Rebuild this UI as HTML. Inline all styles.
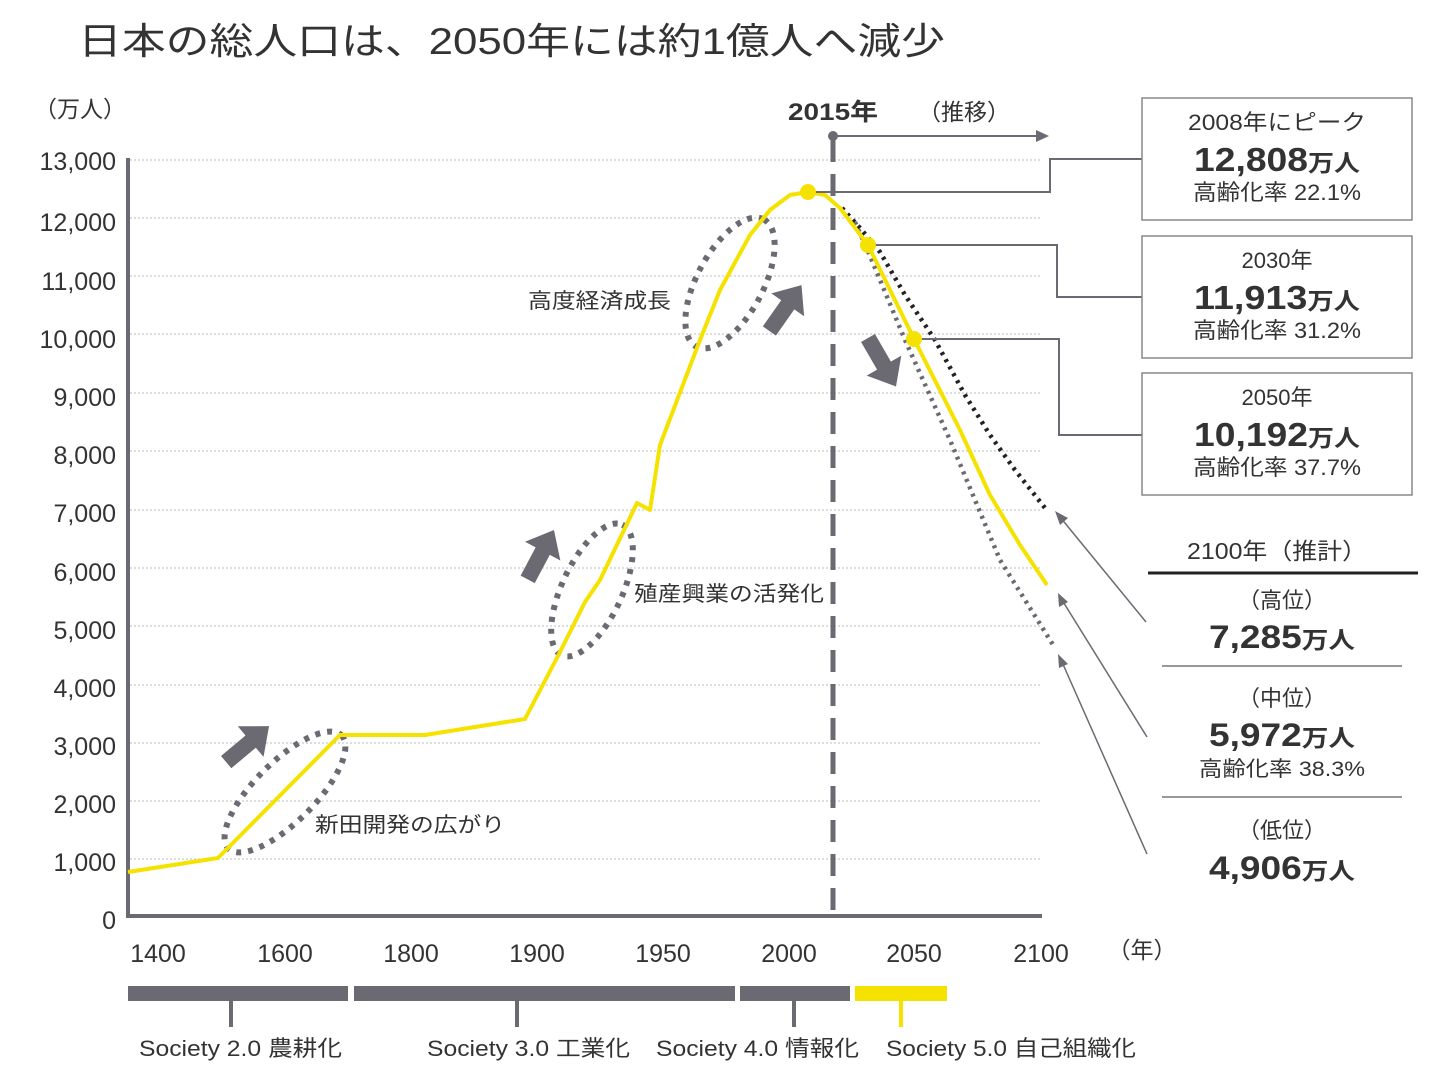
<!DOCTYPE html>
<html><head><meta charset="utf-8"><style>
html,body{margin:0;padding:0;background:#fff}
svg{display:block}
text{font-family:"Liberation Sans","Noto Sans CJK JP",sans-serif;fill:#333}
</style></head><body>
<svg width="1441" height="1080" viewBox="0 0 1441 1080" xmlns="http://www.w3.org/2000/svg">
<text x="78" y="54" font-size="37" fill="#333" textLength="867" lengthAdjust="spacingAndGlyphs">日本の総人口は、2050年には約1億人へ減少</text>
<text x="34" y="117" font-size="23" fill="#444">（万人）</text>
<g stroke="#bbb" stroke-width="1" stroke-dasharray="2,2">
<line x1="130" y1="160" x2="1040" y2="160"/><line x1="130" y1="218" x2="1040" y2="218"/>
<line x1="130" y1="276" x2="1040" y2="276"/><line x1="130" y1="334" x2="1040" y2="334"/>
<line x1="130" y1="393" x2="1040" y2="393"/><line x1="130" y1="451" x2="1040" y2="451"/>
<line x1="130" y1="510" x2="1040" y2="510"/><line x1="130" y1="568" x2="1040" y2="568"/>
<line x1="130" y1="626" x2="1040" y2="626"/><line x1="130" y1="685" x2="1040" y2="685"/>
<line x1="130" y1="743" x2="1040" y2="743"/><line x1="130" y1="801" x2="1040" y2="801"/>
<line x1="130" y1="859" x2="1040" y2="859"/>
</g>
<g font-size="25" text-anchor="end" fill="#333">
<text x="116" y="170">13,000</text><text x="116" y="231">12,000</text><text x="116" y="290">11,000</text>
<text x="116" y="348">10,000</text><text x="116" y="406">9,000</text><text x="116" y="464">8,000</text>
<text x="116" y="522">7,000</text><text x="116" y="581">6,000</text><text x="116" y="639">5,000</text>
<text x="116" y="697">4,000</text><text x="116" y="755">3,000</text><text x="116" y="813">2,000</text>
<text x="116" y="871">1,000</text><text x="116" y="929">0</text>
</g>
<line x1="128" y1="158" x2="128" y2="918" stroke="#6b6a73" stroke-width="4"/>
<line x1="126" y1="916" x2="1042" y2="916" stroke="#6b6a73" stroke-width="4"/>
<g font-size="25" text-anchor="middle">
<text x="158" y="962">1400</text><text x="285" y="962">1600</text><text x="411" y="962">1800</text>
<text x="537" y="962">1900</text><text x="663" y="962">1950</text><text x="789" y="962">2000</text>
<text x="914" y="962">2050</text><text x="1041" y="962">2100</text>
<text x="1142" y="958" font-size="23">（年）</text>
</g>
<line x1="833" y1="140" x2="833" y2="918" stroke="#6b6a73" stroke-width="5" stroke-dasharray="22,12"/>
<circle cx="833" cy="136" r="5" fill="#6b6a73"/>
<line x1="833" y1="136" x2="1040" y2="136" stroke="#6b6a73" stroke-width="2"/>
<polygon points="1049,136 1036,130 1036,142" fill="#6b6a73"/>
<text x="788" y="120" font-size="24" font-weight="bold" textLength="90" lengthAdjust="spacingAndGlyphs">2015年</text>
<text x="918" y="120" font-size="23">（推移）</text>
<g fill="none" stroke="#6b6a73" stroke-width="6" stroke-dasharray="5,7">
<ellipse cx="285" cy="792" rx="80" ry="30" transform="rotate(-45 285 792)"/>
<ellipse cx="592" cy="590" rx="72" ry="30" transform="rotate(-65 592 590)"/>
<ellipse cx="730" cy="283" rx="72" ry="33" transform="rotate(-62 730 283)"/>
</g>
<g fill="#6b6a73">
<polygon points="0,-34 20,-10 8,-10 8,22 -8,22 -8,-10 -20,-10" transform="translate(243,748) rotate(50)"/>
<polygon points="0,-34 20,-10 8,-10 8,22 -8,22 -8,-10 -20,-10" transform="translate(538,560) rotate(28)"/>
<polygon points="0,-34 20,-10 8,-10 8,22 -8,22 -8,-10 -20,-10" transform="translate(782,313) rotate(35)"/>
<polygon points="0,-34 20,-10 8,-10 8,22 -8,22 -8,-10 -20,-10" transform="translate(879,357) rotate(150)"/>
</g>
<g font-size="21" fill="#333">
<text x="315" y="832" textLength="190" lengthAdjust="spacingAndGlyphs">新田開発の広がり</text>
<text x="634" y="601" textLength="190" lengthAdjust="spacingAndGlyphs">殖産興業の活発化</text>
<text x="528" y="308" textLength="143" lengthAdjust="spacingAndGlyphs">高度経済成長</text>
</g>
<polyline points="842,208 860,228 880,252 905,295 935,340 965,395 990,435 1015,470 1045,508" fill="none" stroke="#222" stroke-width="4.5" stroke-dasharray="3,5"/>
<polyline points="855,222 870,256 905,340 950,440 975,500 1000,560 1025,600 1055,648" fill="none" stroke="#6b6a73" stroke-width="4.5" stroke-dasharray="3,5"/>
<polyline points="128,872 218,858 340,735 425,735 525,719 560,652 585,602 600,580 637,503 650,510 660,445 700,340 720,290 750,235 770,210 790,195 808,192 825,195 840,208 868,245 914,339 960,430 990,495 1020,545 1047,585" fill="none" stroke="#f5e200" stroke-width="4" stroke-linejoin="round"/>
<g fill="#f5e200"><circle cx="808" cy="192" r="8"/><circle cx="868" cy="245" r="8"/><circle cx="914" cy="339" r="8"/></g>
<g fill="none" stroke="#6b6a73" stroke-width="2">
<polyline points="816,192 1050,192 1050,159 1142,159"/>
<polyline points="876,245 1057,245 1057,297 1142,297"/>
<polyline points="922,339 1059,339 1059,435 1142,435"/>
</g>
<g fill="#fff" stroke="#888" stroke-width="1.5">
<rect x="1142" y="98" width="270" height="122"/><rect x="1142" y="236" width="270" height="122"/><rect x="1142" y="373" width="270" height="122"/>
</g>
<g text-anchor="middle">
<text x="1277" y="130" font-size="22" textLength="178" lengthAdjust="spacingAndGlyphs">2008年にピーク</text>
<text x="1277" y="171" font-size="33" font-weight="bold" fill="#222" textLength="166" lengthAdjust="spacingAndGlyphs">12,808<tspan font-size="23">万人</tspan></text>
<text x="1277" y="200" font-size="22" textLength="168" lengthAdjust="spacingAndGlyphs">高齢化率 22.1%</text>
<text x="1277" y="268" font-size="22">2030年</text>
<text x="1277" y="309" font-size="33" font-weight="bold" fill="#222" textLength="166" lengthAdjust="spacingAndGlyphs">11,913<tspan font-size="23">万人</tspan></text>
<text x="1277" y="338" font-size="22" textLength="168" lengthAdjust="spacingAndGlyphs">高齢化率 31.2%</text>
<text x="1277" y="405" font-size="22">2050年</text>
<text x="1277" y="446" font-size="33" font-weight="bold" fill="#222" textLength="166" lengthAdjust="spacingAndGlyphs">10,192<tspan font-size="23">万人</tspan></text>
<text x="1277" y="475" font-size="22" textLength="168" lengthAdjust="spacingAndGlyphs">高齢化率 37.7%</text>
<text x="1277" y="559" font-size="23" textLength="180" lengthAdjust="spacingAndGlyphs">2100年（推計）</text>
<text x="1282" y="608" font-size="22">（高位）</text>
<text x="1282" y="648" font-size="32" font-weight="bold" fill="#222" textLength="146" lengthAdjust="spacingAndGlyphs">7,285<tspan font-size="23">万人</tspan></text>
<text x="1282" y="706" font-size="22">（中位）</text>
<text x="1282" y="746" font-size="32" font-weight="bold" fill="#222" textLength="146" lengthAdjust="spacingAndGlyphs">5,972<tspan font-size="23">万人</tspan></text>
<text x="1282" y="776" font-size="21" textLength="166" lengthAdjust="spacingAndGlyphs">高齢化率 38.3%</text>
<text x="1282" y="838" font-size="22">（低位）</text>
<text x="1282" y="879" font-size="32" font-weight="bold" fill="#222" textLength="146" lengthAdjust="spacingAndGlyphs">4,906<tspan font-size="23">万人</tspan></text>
</g>
<line x1="1148" y1="573" x2="1418" y2="573" stroke="#222" stroke-width="3"/>
<line x1="1162" y1="666" x2="1402" y2="666" stroke="#777" stroke-width="1.5"/>
<line x1="1162" y1="797" x2="1402" y2="797" stroke="#777" stroke-width="1.5"/>
<g stroke="#6b6a73" stroke-width="1.5" fill="none">
<line x1="1146" y1="622" x2="1060" y2="517"/>
<line x1="1147" y1="737" x2="1062" y2="600"/>
<line x1="1147" y1="854" x2="1062" y2="662"/>
</g>
<g fill="#6b6a73">
<polygon points="1055,511 1068,518 1060,525"/>
<polygon points="1058,593 1068,602 1059,607"/>
<polygon points="1058,654 1068,664 1059,668"/>
</g>
<rect x="128" y="986" width="220" height="15" fill="#6b6a73"/>
<rect x="354" y="986" width="381" height="15" fill="#6b6a73"/>
<rect x="740" y="986" width="110" height="15" fill="#6b6a73"/>
<rect x="855" y="986" width="92" height="15" fill="#f5e200"/>
<g stroke-width="4">
<line x1="231" y1="1000" x2="231" y2="1027" stroke="#6b6a73"/>
<line x1="517" y1="1000" x2="517" y2="1027" stroke="#6b6a73"/>
<line x1="794" y1="1000" x2="794" y2="1027" stroke="#6b6a73"/>
<line x1="901" y1="1000" x2="901" y2="1027" stroke="#f5e200"/>
</g>
<g font-size="22">
<text x="139" y="1056" textLength="203" lengthAdjust="spacingAndGlyphs">Society 2.0 農耕化</text>
<text x="427" y="1056" textLength="203" lengthAdjust="spacingAndGlyphs">Society 3.0 工業化</text>
<text x="656" y="1056" textLength="203" lengthAdjust="spacingAndGlyphs">Society 4.0 情報化</text>
<text x="886" y="1056" textLength="250" lengthAdjust="spacingAndGlyphs">Society 5.0 自己組織化</text>
</g>
</svg>
</body></html>
